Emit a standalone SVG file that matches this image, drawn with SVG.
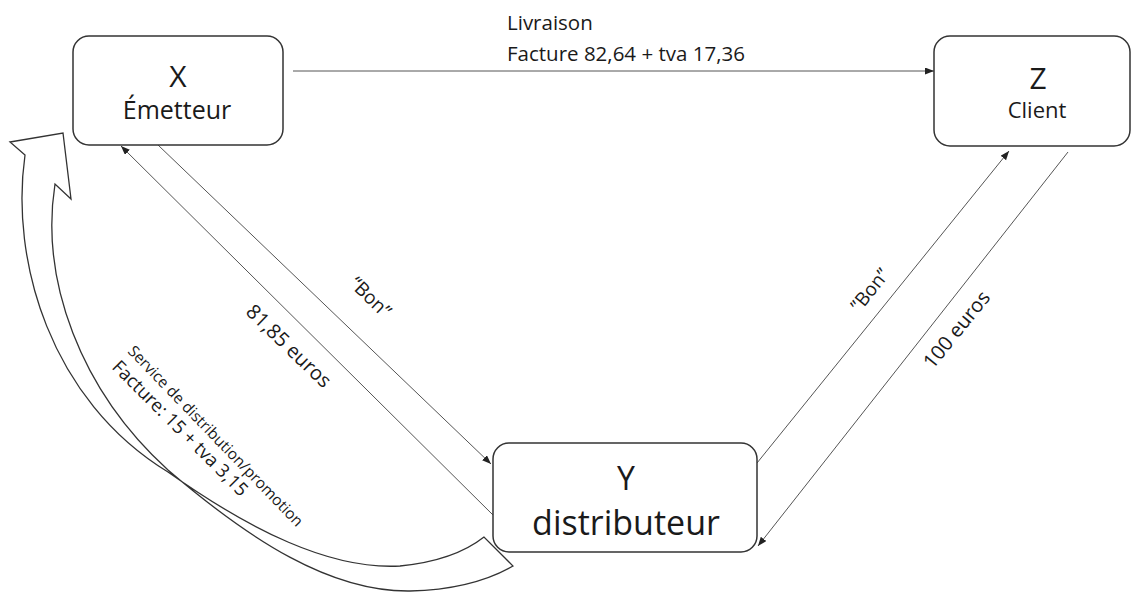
<svg xmlns="http://www.w3.org/2000/svg" width="1132" height="594" viewBox="0 0 1132 594">
<style>
.box{fill:#fff;stroke:#333;stroke-width:1.5}
.t{font-family:"Open Sans","DejaVu Sans",sans-serif;fill:#1a1a1a}
.c{stroke:#555;stroke-width:1;fill:none}
.big{fill:#fff;stroke:#333;stroke-width:1.3;stroke-linejoin:miter}
</style>
<defs>
<marker id="ah" markerUnits="userSpaceOnUse" markerWidth="10" markerHeight="8" refX="9" refY="3.5" orient="auto">
<path d="M0,0 L9,3.5 L0,7 z" fill="#222"/>
</marker>
</defs>
<rect width="1132" height="594" fill="#fff"/>
<g id="curved-arrow">
<path class="big" d="M10,142 L63,133 L71,199 L55,184 C40,280 80,390 168,470 C250,540 330,592 410,591 C450,590 485,582 513,566 L484,537 C465,552 440,562 400,566 C330,570 250,530 168,472 C50,400 10,260 25,155 Z"/>
</g>
<g id="connectors">
<path class="c" d="M293,71 L934,71" marker-end="url(#ah)"/>
<path class="c" d="M158,145 L491,464" marker-end="url(#ah)"/>
<path class="c" d="M493,515 L121,146" marker-end="url(#ah)"/>
<path class="c" d="M757,463 L1009,151" marker-end="url(#ah)"/>
<path class="c" d="M1068,152 L758,546" marker-end="url(#ah)"/>
</g>
<g id="node-x">
<rect class="box" x="73" y="36" width="210" height="109" rx="16"/>
<text class="t" x="178" y="87" font-size="30" text-anchor="middle">X</text>
<text class="t" x="177" y="119" font-size="25" text-anchor="middle">Émetteur</text>
</g>
<g id="node-z">
<rect class="box" x="934" y="36" width="196" height="110" rx="16"/>
<text class="t" x="1038" y="89" font-size="30" text-anchor="middle">Z</text>
<text class="t" x="1037" y="118" font-size="22" text-anchor="middle">Client</text>
</g>
<g id="node-y">
<rect class="box" x="493" y="443" width="264" height="109" rx="16"/>
<text class="t" x="626" y="490" font-size="32" text-anchor="middle">Y</text>
<text class="t" x="626" y="535" font-size="34" text-anchor="middle">distributeur</text>
</g>
<g id="labels">
<text class="t" x="507" y="30" font-size="20.5">Livraison</text>
<text class="t" x="507" y="61" font-size="20.5">Facture 82,64 + tva 17,36</text>
<text class="t" font-size="19" text-anchor="middle" transform="translate(366,302) rotate(44)">“Bon”</text>
<text class="t" font-size="20" text-anchor="middle" transform="translate(284,351) rotate(44)">81,85 euros</text>
<text class="t" font-size="19" text-anchor="middle" transform="translate(875,294) rotate(-51)">”Bon”</text>
<text class="t" font-size="20" text-anchor="middle" transform="translate(962,334) rotate(-51)">100 euros</text>
<text class="t" font-size="15.5" transform="translate(127,352) rotate(46)">Service de distribution/promotion</text>
<text class="t" font-size="18.5" transform="translate(111,368) rotate(45)">Facture: 15 + tva 3,15</text>
</g>
</svg>
